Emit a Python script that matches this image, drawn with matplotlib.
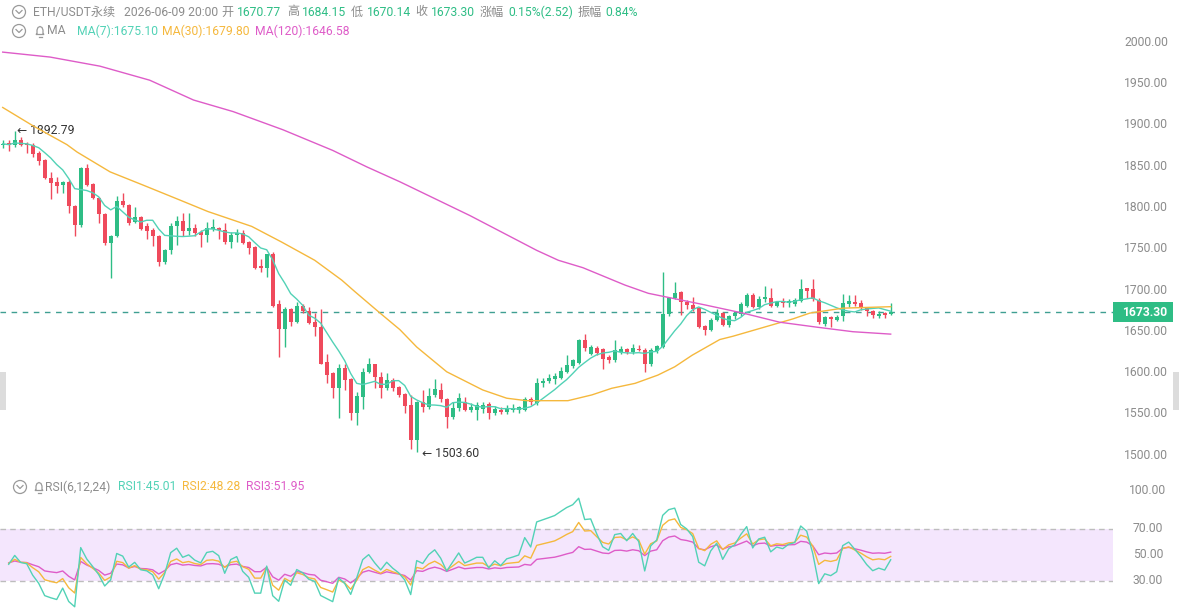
import numpy as np
import matplotlib
matplotlib.use("Agg")
import matplotlib.pyplot as plt
from matplotlib import transforms
from matplotlib.patches import Rectangle, Circle, Polygon

plt.rcParams['font.family'] = ['Roboto', 'Noto Sans CJK SC', 'DejaVu Sans']

W, H = 1179, 610

# ---- candle data (1h candles) ----
opens = [1875, 1878, 1875, 1882, 1877, 1876, 1866, 1857, 1836, 1831,
         1827, 1831, 1802, 1779, 1848, 1828, 1811, 1792, 1757, 1765,
         1808, 1803, 1782, 1788, 1777, 1773, 1765, 1734, 1749, 1777,
         1784, 1771, 1775, 1770, 1766, 1774, 1775, 1773, 1758, 1766,
         1769, 1758, 1752, 1729, 1727, 1743, 1683, 1653, 1677, 1661,
         1681, 1674, 1661, 1655, 1613, 1600, 1581, 1606, 1592, 1551,
         1571, 1601, 1610, 1595, 1581, 1591, 1582, 1574, 1561, 1518,
         1564, 1558, 1573, 1579, 1568, 1546, 1557, 1565, 1555, 1555,
         1556, 1562, 1551, 1555, 1552, 1555, 1555, 1555, 1568, 1563,
         1587, 1590, 1592, 1593, 1601, 1608, 1612, 1640, 1623, 1630,
         1629, 1619, 1615, 1625, 1628, 1625, 1629, 1627, 1610, 1626,
         1631, 1671, 1690, 1697, 1686, 1682, 1678, 1656, 1651, 1664,
         1672, 1658, 1668, 1671, 1681, 1694, 1679, 1689, 1690, 1681,
         1686, 1684, 1683, 1687, 1702, 1701, 1688, 1659, 1667, 1664,
         1668, 1683, 1686, 1684, 1678, 1674, 1669, 1672, 1670.77]
highs = [1881, 1882, 1892.79, 1885, 1879, 1878, 1868, 1858, 1843, 1837,
         1832, 1833, 1803, 1849, 1852, 1829, 1813, 1793, 1766, 1814,
         1818, 1804, 1801, 1789, 1781, 1775, 1766, 1750, 1781, 1789,
         1793, 1793, 1780, 1773, 1782, 1786, 1776, 1781, 1770, 1774,
         1773, 1759, 1753, 1738, 1744, 1746, 1688, 1679, 1678, 1686,
         1683, 1680, 1672, 1677, 1622, 1601, 1610, 1610, 1593, 1577,
         1606, 1618, 1611, 1601, 1600, 1593, 1584, 1575, 1573, 1566,
         1579, 1581, 1592, 1588, 1569, 1564, 1575, 1570, 1563, 1564,
         1564, 1565, 1560, 1558, 1561, 1562, 1560, 1570, 1570, 1594,
         1594, 1598, 1600, 1607, 1621, 1617, 1641, 1647, 1633, 1632,
         1630, 1621, 1640, 1632, 1630, 1635, 1634, 1630, 1630, 1633,
         1722, 1691, 1710, 1699, 1688, 1691, 1679, 1658, 1666, 1677,
         1673, 1670, 1675, 1686, 1696, 1696, 1693, 1705, 1702, 1687,
         1690, 1689, 1690, 1713, 1703, 1713, 1690, 1669, 1669, 1670,
         1695, 1694, 1694, 1688, 1680, 1676, 1674, 1673, 1684.15]
lows = [1872, 1868, 1873, 1874, 1866, 1861, 1851, 1834, 1810, 1817,
        1818, 1793, 1765, 1776, 1826, 1810, 1781, 1754, 1714, 1764,
        1801, 1779, 1781, 1773, 1762, 1753, 1729, 1732, 1744, 1754,
        1765, 1767, 1765, 1752, 1758, 1771, 1762, 1756, 1751, 1758,
        1756, 1744, 1725, 1722, 1716, 1679, 1619, 1631, 1657, 1660,
        1672, 1659, 1644, 1610, 1587, 1569, 1545, 1579, 1543, 1537,
        1556, 1599, 1581, 1569, 1579, 1578, 1570, 1551, 1507, 1503.6,
        1552, 1556, 1570, 1564, 1533, 1544, 1553, 1553, 1552, 1543,
        1551, 1544, 1549, 1550, 1550, 1552, 1551, 1553, 1561, 1561,
        1583, 1587, 1586, 1592, 1599, 1606, 1610, 1626, 1621, 1621,
        1604, 1612, 1613, 1622, 1622, 1622, 1626, 1601, 1608, 1624,
        1630, 1669, 1689, 1670, 1677, 1674, 1654, 1645, 1650, 1663,
        1656, 1655, 1665, 1669, 1679, 1678, 1677, 1686, 1680, 1679,
        1679, 1680, 1681, 1686, 1690, 1687, 1659, 1657, 1655, 1662,
        1662, 1680, 1681, 1676, 1669, 1666, 1666, 1666, 1670.14]
closes = [1877, 1875, 1882, 1876, 1875, 1865, 1856, 1835, 1830, 1826,
          1831, 1802, 1779, 1848, 1827, 1811, 1792, 1757, 1765, 1808,
          1803, 1781, 1788, 1774, 1772, 1765, 1734, 1749, 1777, 1784,
          1772, 1775, 1769, 1766, 1775, 1776, 1773, 1758, 1767, 1769,
          1757, 1751, 1727, 1727, 1743, 1681, 1653, 1677, 1661, 1681,
          1674, 1660, 1655, 1611, 1597, 1581, 1606, 1591, 1551, 1572,
          1601, 1610, 1595, 1581, 1591, 1581, 1573, 1560, 1518, 1564,
          1558, 1572, 1580, 1568, 1546, 1557, 1569, 1555, 1558, 1561,
          1561, 1551, 1556, 1552, 1556, 1557, 1558, 1568, 1564, 1587,
          1590, 1593, 1596, 1602, 1609, 1615, 1640, 1630, 1631, 1624,
          1617, 1615, 1627, 1628, 1625, 1630, 1627, 1611, 1627, 1632,
          1671, 1690, 1696, 1685, 1682, 1677, 1655, 1651, 1664, 1672,
          1658, 1668, 1672, 1683, 1694, 1679, 1689, 1691, 1681, 1685,
          1684, 1687, 1688, 1701, 1699, 1689, 1661, 1667, 1665, 1667,
          1684, 1687, 1683, 1679, 1674, 1670, 1671, 1670, 1673.30]

# moving averages (candle index, value)
ma30_idx = [0, 5, 10.7, 12.4, 17.9, 23.4, 29.5, 34.2, 41.5, 46.5, 52, 56.5,
            58.7, 62.9, 66.2, 69, 74, 80, 84, 87.3, 94.2, 98.2, 101.5, 105.4,
            109.2, 112, 114.9, 119.5, 121.7, 127.4, 131.7, 134.5, 140, 148]
ma30_val = [1921, 1899, 1876, 1867, 1843, 1827, 1809, 1795, 1777, 1758, 1736, 1712,
            1698, 1672, 1652, 1631, 1601, 1579, 1569, 1566, 1566, 1573, 1581, 1587,
            1597, 1607, 1621, 1640, 1644, 1656, 1665, 1672, 1678, 1679.8]
ma120_idx = [0, 7.9, 16.2, 24.5, 31.8, 38.4, 46.7, 55, 60.7, 66.2, 77.9, 89,
             92.6, 96.7, 103.7, 107.6, 117, 123.4, 129.5, 135.7, 141.7, 148]
ma120_val = [1988, 1982, 1971, 1954, 1930, 1916, 1894, 1869, 1849, 1831, 1790, 1748,
             1736, 1727, 1706, 1696, 1682, 1672, 1661, 1655, 1649.5, 1646.58]

# indicator readouts shown in the legends
ma_readout = [1675.10, 1679.80, 1646.58]
rsi_readout = [45.01, 48.28, 51.95]

price_ticks = [2000, 1950, 1900, 1850, 1800, 1750, 1700, 1650, 1600, 1550, 1500]
rsi_ticks = [100, 70, 50, 30]
last_price = 1673.30

GREEN = '#2ebd85'
RED = '#ef4a5c'
MA7_C = '#52d2b6'
MA30_C = '#f5b83d'
MA120_C = '#de5cc8'
GRAY = '#8c8c8c'

o = np.array(opens); h = np.array(highs); l = np.array(lows); c = np.array(closes)
idx = np.arange(len(c))
up = c >= o


def rolling_mean(x, n):
    out = np.empty(len(x))
    for i in range(len(x)):
        out[i] = x[max(0, i - n + 1):i + 1].mean()
    return out


def rsi(x, n):
    d = np.diff(x)
    gain = np.clip(d, 0, None)
    loss = np.clip(-d, 0, None)
    au, ad = gain.mean(), loss.mean()
    res = []
    for g, s in zip(gain, loss):
        au = (au * (n - 1) + g) / n
        ad = (ad * (n - 1) + s) / n
        res.append(100 * au / (au + ad))
    return np.array(res)


fig = plt.figure(figsize=(W / 100, H / 100), dpi=100)
fig.patch.set_facecolor('white')


def fx(px):
    return px / W


def fy(py):
    return 1 - py / H


# main price panel: x pixel = 2.7 + 6*i, price 1700 at y=290, 0.826 px per unit
ax = fig.add_axes([0, fy(470), fx(1113), (470 - 20) / H])
ax.set_xlim(-2.7 / 6, (1113 - 2.7) / 6)
ax.set_ylim(1700 - (470 - 290) / 0.826, 1700 + (290 - 20) / 0.826)
ax.axis('off')

cols = np.where(up, GREEN, RED)
ax.vlines(idx, l, h, colors=cols, linewidth=1, zorder=3)
body = np.maximum(np.abs(c - o), 1.0)
ax.bar(idx, body, bottom=np.minimum(o, c), width=0.66, color=cols, linewidth=0, zorder=4)

ax.plot(idx, rolling_mean(c, 7), color=MA7_C, lw=1.0, zorder=5)
ax.plot(ma30_idx, ma30_val, color=MA30_C, lw=1.0, zorder=5)
ax.plot(ma120_idx, ma120_val, color=MA120_C, lw=1.0, zorder=5)

ax.axhline(last_price, color='#3f9f92', lw=1, dashes=(4, 4), zorder=2)

imax = int(np.argmax(h)); imin = int(np.argmin(l))
ax.annotate('← %.2f' % h[imax], (imax, h[imax]), xytext=(2, 0), textcoords='offset points',
            ha='left', va='center', fontsize=8.7, color='#333333',
            family=['Roboto', 'DejaVu Sans'])
ax.annotate('← %.2f' % l[imin], (imin, l[imin]), xytext=(4, -1), textcoords='offset points',
            ha='left', va='center', fontsize=8.7, color='#333333',
            family=['Roboto', 'DejaVu Sans'])

tr = transforms.blended_transform_factory(fig.transFigure, ax.transData)
for t in price_ticks:
    ax.text(fx(1146), t, '%.2f' % t, transform=tr, ha='center', va='center',
            fontsize=8.7, color=GRAY, clip_on=False)

# last price tag (drawn in the axes so the label sits on top of it)
ax.add_patch(Rectangle((fx(1113), last_price - 10 / 0.826), fx(60), 20 / 0.826,
                       transform=tr, facecolor=GREEN, edgecolor='none',
                       clip_on=False, zorder=9))
ax.text(fx(1145), last_price, '%.2f' % last_price, transform=tr, ha='center',
        va='center', fontsize=8.7, color='white', fontweight='bold', clip_on=False, zorder=10)

# RSI panel: 50 at y=555, 1.3 px per unit
rx = fig.add_axes([0, 0, fx(1113), (610 - 478) / H])
rx.set_xlim(ax.get_xlim())
rx.set_ylim(50 - (610 - 555) / 1.3, 50 + (555 - 478) / 1.3)
rx.axis('off')
rx.axhspan(30, 70, color='#f4e6fd', lw=0, zorder=1)
for v in (30, 70):
    rx.axhline(v, color='#bdbdbd', lw=1, dashes=(4, 3), zorder=2)
rsi1, rsi2, rsi3 = rsi(c, 6), rsi(c, 12), rsi(c, 24)
rx.plot(idx[1:], rsi3, color=MA120_C, lw=1.0, zorder=3)
rx.plot(idx[1:], rsi2, color=MA30_C, lw=1.0, zorder=4)
rx.plot(idx[1:], rsi1, color=MA7_C, lw=1.0, zorder=5)
rtr = transforms.blended_transform_factory(fig.transFigure, rx.transData)
for t in rsi_ticks:
    rx.text(fx(1148), t, '%.2f' % t, transform=rtr, ha='center', va='center',
            fontsize=8.7, color=GRAY, clip_on=False)


# ---- header texts ----
def label(px, py, s, color=GRAY, **kw):
    fig.text(fx(px), fy(py), s, ha='left', va='center', fontsize=8.7, color=color, **kw)


def icon_circle(cx, cy):
    fig.patches.append(Circle((cx, H - cy), 6.5, transform=None, fill=False,
                              edgecolor='#9a9a9a', lw=0.9))
    fig.lines.append(plt.Line2D([cx - 3, cx, cx + 3], [H - cy + 1.5, H - cy - 1.5, H - cy + 1.5],
                                transform=None, color='#9a9a9a', lw=0.9))


def icon_bell(cx, cy):
    pts = [(-4, 3.5), (-3, 2.5), (-3, -1), (-2, -3.5), (0, -4.5), (2, -3.5),
           (3, -1), (3, 2.5), (4, 3.5)]
    fig.patches.append(Polygon([(cx + a, H - cy - b) for a, b in pts], closed=True,
                               transform=None, fill=False, edgecolor='#9a9a9a', lw=0.9))
    fig.lines.append(plt.Line2D([cx - 1.5, cx + 1.5], [H - cy - 5.5, H - cy - 5.5],
                                transform=None, color='#9a9a9a', lw=0.9))


icon_circle(19, 12)
label(33, 12, 'ETH/USDT永续')
label(124, 12, '2026-06-09 20:00')
label(221, 12, '开'); label(237, 12, '%.2f' % o[-1], GREEN)
label(287, 12, '高'); label(302, 12, '%.2f' % h[-1], GREEN)
label(351, 12, '低'); label(367, 12, '%.2f' % l[-1], GREEN)
label(415, 12, '收'); label(431, 12, '%.2f' % c[-1], GREEN)
label(480, 12, '涨幅'); label(508, 12, '0.15%(2.52)', GREEN)
label(578, 12, '振幅'); label(605, 12, '0.84%', GREEN)

icon_circle(19, 31)
icon_bell(40, 31)
label(47, 31, 'MA')
label(77, 31, 'MA(7):%.2f' % ma_readout[0], MA7_C)
label(162, 31, 'MA(30):%.2f' % ma_readout[1], MA30_C)
label(255, 31, 'MA(120):%.2f' % ma_readout[2], MA120_C)

icon_circle(20, 487)
icon_bell(39, 487)
label(45, 487, 'RSI(6,12,24)')
label(118, 487, 'RSI1:%.2f' % rsi_readout[0], MA7_C)
label(182, 487, 'RSI2:%.2f' % rsi_readout[1], MA30_C)
label(246, 487, 'RSI3:%.2f' % rsi_readout[2], MA120_C)

# side scroll handles
for x0 in (0, 1173):
    fig.patches.append(Rectangle((x0, H - 410), 6, 38, transform=None,
                                 facecolor='#dcdcdc', edgecolor='none'))

fig.savefig('out.png', dpi=100)
